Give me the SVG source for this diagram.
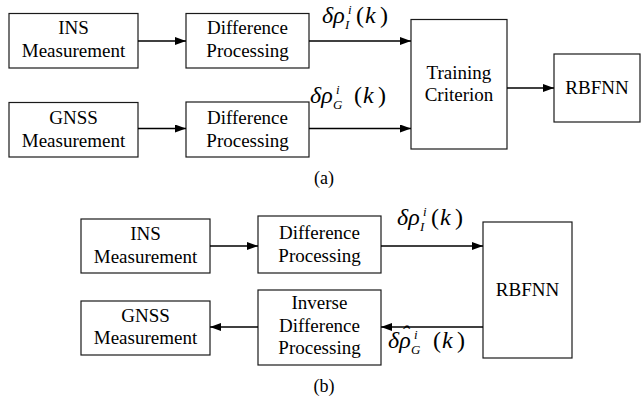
<svg xmlns="http://www.w3.org/2000/svg" width="641" height="398" viewBox="0 0 641 398">
  <style>
    text { font-family: "Liberation Serif", "Times New Roman", "DejaVu Serif", serif; }
    .box { fill: #ffffff; stroke: #1a1a1a; stroke-width: 1.2; }
    .lbl { font-size: 19px; fill: #000; text-anchor: middle; }
    .cap { font-size: 18px; fill: #000; text-anchor: middle; }
    .wire { fill: none; stroke: #000; stroke-width: 1.3; marker-end: url(#arrow); }
    .m { font-size: 24px; fill: #000; }
    .mi { font-style: italic; }
    .s { font-size: 13px; font-style: italic; }
  </style>
  <defs>
    <marker id="arrow" markerUnits="userSpaceOnUse" markerWidth="12" markerHeight="10" refX="11" refY="4" orient="auto">
      <path d="M0,0 L11,4 L0,8 Z" fill="#000"/>
    </marker>
  </defs>
  <rect width="641" height="398" fill="#ffffff"/>

  <!-- (a) training stage -->
  <g id="a-ins">
    <rect class="box" x="9" y="13.5" width="129" height="54.5"/>
    <text class="lbl" x="73.5" y="34">INS</text>
    <text class="lbl" x="73.5" y="57">Measurement</text>
  </g>
  <g id="a-diff1">
    <rect class="box" x="186" y="13.5" width="123" height="54.5"/>
    <text class="lbl" x="247.5" y="34">Difference</text>
    <text class="lbl" x="247.5" y="57">Processing</text>
  </g>
  <g id="a-gnss">
    <rect class="box" x="9" y="102.5" width="129" height="54.5"/>
    <text class="lbl" x="73.5" y="124">GNSS</text>
    <text class="lbl" x="73.5" y="147">Measurement</text>
  </g>
  <g id="a-diff2">
    <rect class="box" x="186" y="102" width="123" height="55"/>
    <text class="lbl" x="247.5" y="124">Difference</text>
    <text class="lbl" x="247.5" y="147">Processing</text>
  </g>
  <g id="a-train">
    <rect class="box" x="411" y="19.5" width="96" height="129.5"/>
    <text class="lbl" x="459" y="79">Training</text>
    <text class="lbl" x="459" y="101">Criterion</text>
  </g>
  <g id="a-rbfnn">
    <rect class="box" x="554" y="54" width="86" height="68"/>
    <text class="lbl" x="597" y="94">RBFNN</text>
  </g>
  <text class="cap" x="324" y="184">(a)</text>

  <!-- (b) application stage -->
  <g id="b-ins">
    <rect class="box" x="81" y="219" width="129" height="54"/>
    <text class="lbl" x="145.5" y="240">INS</text>
    <text class="lbl" x="145.5" y="263">Measurement</text>
  </g>
  <g id="b-diff">
    <rect class="box" x="258" y="216" width="123" height="57"/>
    <text class="lbl" x="319.5" y="239">Difference</text>
    <text class="lbl" x="319.5" y="262">Processing</text>
  </g>
  <g id="b-gnss">
    <rect class="box" x="81" y="301" width="129" height="54"/>
    <text class="lbl" x="145.5" y="322">GNSS</text>
    <text class="lbl" x="145.5" y="344">Measurement</text>
  </g>
  <g id="b-inv">
    <rect class="box" x="258" y="290" width="123" height="75"/>
    <text class="lbl" x="319.5" y="309">Inverse</text>
    <text class="lbl" x="319.5" y="332">Difference</text>
    <text class="lbl" x="319.5" y="354">Processing</text>
  </g>
  <g id="b-rbfnn">
    <rect class="box" x="483" y="222" width="89" height="136"/>
    <text class="lbl" x="527.5" y="296">RBFNN</text>
  </g>
  <text class="cap" x="324" y="392">(b)</text>

  <!-- connectors -->
  <g id="connectors">
    <line class="wire" x1="138" y1="41" x2="186" y2="41"/>
    <line class="wire" x1="138" y1="128.5" x2="186" y2="128.5"/>
    <line class="wire" x1="309" y1="41" x2="411" y2="41"/>
    <line class="wire" x1="309" y1="128.5" x2="411" y2="128.5"/>
    <line class="wire" x1="507" y1="88" x2="554" y2="88"/>
    <line class="wire" x1="210" y1="246" x2="258" y2="246"/>
    <line class="wire" x1="381" y1="246" x2="483" y2="246"/>
    <line class="wire" x1="483" y1="327" x2="381" y2="327"/>
    <line class="wire" x1="258" y1="327" x2="210" y2="327"/>
  </g>

  <!-- signal labels: each formula is one text run -->
  <text id="lbl-a-ins" class="m"><tspan class="mi" x="322" y="23">δρ</tspan><tspan class="s" x="348" y="14">i</tspan><tspan class="s" x="345" y="29">I</tspan><tspan x="356" y="23">(</tspan><tspan class="mi" x="365" y="23">k</tspan><tspan x="380" y="23">)</tspan></text>
  <text id="lbl-a-gnss" class="m"><tspan class="mi" x="310" y="103">δρ</tspan><tspan class="s" x="336" y="94">i</tspan><tspan class="s" x="333" y="109">G</tspan><tspan x="354" y="103">(</tspan><tspan class="mi" x="363" y="103">k</tspan><tspan x="378" y="103">)</tspan></text>
  <text id="lbl-b-ins" class="m"><tspan class="mi" x="397" y="225">δρ</tspan><tspan class="s" x="423" y="216">i</tspan><tspan class="s" x="420" y="231">I</tspan><tspan x="431" y="225">(</tspan><tspan class="mi" x="440" y="225">k</tspan><tspan x="455" y="225">)</tspan></text>
  <text id="lbl-b-gnss" class="m"><tspan class="mi" x="388" y="348">δρ</tspan><tspan class="mi" x="401" y="342">ˆ</tspan><tspan class="s" x="414" y="339">i</tspan><tspan class="s" x="411" y="354">G</tspan><tspan x="433" y="348">(</tspan><tspan class="mi" x="442" y="348">k</tspan><tspan x="457" y="348">)</tspan></text>
</svg>
